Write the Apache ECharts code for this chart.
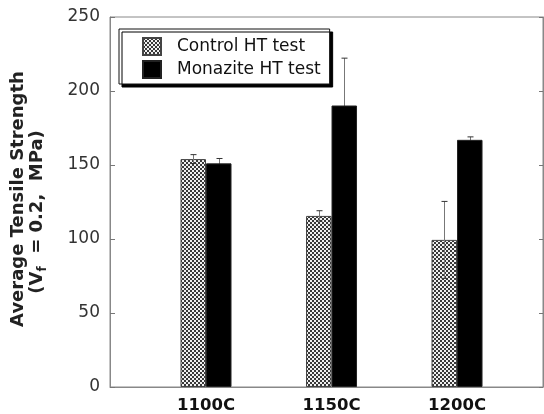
<!DOCTYPE html>
<html>
<head>
<meta charset="utf-8">
<script src="https://cdn.jsdelivr.net/npm/echarts@6/dist/echarts.min.js"></script>
<style>
  html, body { margin: 0; padding: 0; background: #fff; }
  #chart { width: 544px; height: 414px; }
</style>
</head>
<body>
<div id="chart"></div>
<script>
// Heat-treatment temperatures and tensile strength results
const categories = ['1100C', '1150C', '1200C'];
const controlMean = [154, 115.6, 99.4];
const controlErr = [3, 3.5, 26];
const monaziteMean = [151.1, 190.2, 167];
const monaziteErr = [3.3, 32, 2];
const seriesNames = ['Control HT test', 'Monazite HT test'];
const yMin = 0, yMax = 250, yStep = 50;

const FONT = 'DejaVu Sans';
const BAR_W = 25.5;

// Fine checker fill for the control bars
function checkerPattern() {
  const c = document.createElement('canvas');
  c.width = 4; c.height = 4;
  const g = c.getContext('2d');
  g.fillStyle = '#f0f0f0';
  g.fillRect(0, 0, 4, 4);
  g.fillStyle = '#383838';
  g.fillRect(0, 0, 2, 2);
  g.fillRect(2, 2, 2, 2);
  return { image: c, repeat: 'repeat' };
}

const xPos = categories.map((_, i) => i + 1);
const controlData = xPos.map((x, i) => [x, controlMean[i]]);
const monaziteData = xPos.map((x, i) => [x, monaziteMean[i]]);
const controlErrData = xPos.map((x, i) => [x, controlMean[i] - controlErr[i], controlMean[i] + controlErr[i]]);
const monaziteErrData = xPos.map((x, i) => [x, monaziteMean[i] - monaziteErr[i], monaziteMean[i] + monaziteErr[i]]);

// Error bar drawn at a bar's centre; shift is the bar's offset from the category point
function errorBar(shift) {
  return function (params, api) {
    const x = api.value(0);
    const lo = api.coord([x, api.value(1)]);
    const hi = api.coord([x, api.value(2)]);
    const cx = Math.round(lo[0] + shift) + 0.5;
    const cap = 3;
    return {
      type: 'group',
      children: [
        { type: 'line', shape: { x1: cx, y1: lo[1], x2: cx, y2: hi[1] }, style: { stroke: '#777', lineWidth: 1 } },
        { type: 'line', shape: { x1: cx - cap, y1: hi[1], x2: cx + cap, y2: hi[1] }, style: { stroke: '#333', lineWidth: 1 } },
        { type: 'line', shape: { x1: cx - cap, y1: lo[1], x2: cx + cap, y2: lo[1] }, style: { stroke: '#333', lineWidth: 1 } }
      ]
    };
  };
}

const chart = echarts.init(document.getElementById('chart'));
chart.setOption({
  animation: false,
  backgroundColor: '#fff',
  grid: {
    left: 110, right: 1, top: 17, bottom: 26,
    show: true, borderColor: '#888', borderWidth: 1, backgroundColor: 'transparent'
  },
  legend: {
    left: 119, top: 29,
    orient: 'vertical',
    padding: [8, 9, 5, 23],
    itemGap: 4,
    itemWidth: 18, itemHeight: 17,
    icon: 'rect',
    z: 10,
    backgroundColor: '#fff',
    borderColor: '#111', borderWidth: 1,
    shadowColor: '#000', shadowBlur: 0, shadowOffsetX: 3, shadowOffsetY: 3,
    textStyle: { fontFamily: FONT, fontSize: 17, color: '#111', lineHeight: 18, padding: [0, 0, 0, 11] },
    data: seriesNames
  },
  xAxis: {
    type: 'value',
    min: 0.235, max: 3.685,
    splitLine: { show: false },
    axisLine: { show: true, lineStyle: { color: '#888' } },
    axisTick: { show: false },
    axisLabel: {
      customValues: xPos,
      formatter: v => categories[Math.round(v) - 1] || '',
      fontFamily: FONT, fontSize: 16.5, fontWeight: 'bold', color: '#111', margin: 10
    }
  },
  yAxis: [
    {
      type: 'value', min: yMin, max: yMax, interval: yStep,
      splitLine: { show: false },
      axisLine: { show: true, lineStyle: { color: '#888' } },
      axisTick: { show: true, inside: true, length: 5, lineStyle: { color: '#777' } },
      axisLabel: { fontFamily: FONT, fontSize: 17, color: '#333', margin: 10 }
    },
    {
      type: 'value', min: yMin, max: yMax, interval: yStep, position: 'right',
      splitLine: { show: false },
      axisLine: { show: true, lineStyle: { color: '#888' } },
      axisTick: { show: true, inside: true, length: 4, lineStyle: { color: '#777' } },
      axisLabel: { show: false }
    }
  ],
  series: [
    {
      name: seriesNames[0], type: 'bar', data: controlData,
      barWidth: BAR_W, barGap: '0%', z: 3,
      itemStyle: { color: checkerPattern(), borderColor: '#444', borderWidth: 1 }
    },
    {
      name: seriesNames[1], type: 'bar', data: monaziteData,
      barWidth: BAR_W, barGap: '0%', z: 3,
      itemStyle: { color: '#000', borderColor: '#222', borderWidth: 1 }
    },
    {
      // control spreads stay visible over the checker fill
      type: 'custom', data: controlErrData, z: 4, silent: true, clip: false,
      renderItem: errorBar(-BAR_W / 2)
    },
    {
      // monazite spreads sit behind the solid bars
      type: 'custom', data: monaziteErrData, z: 2, silent: true, clip: false,
      renderItem: errorBar(BAR_W / 2)
    }
  ],
  graphic: [
    {
      type: 'text', x: 18, y: 199, rotation: Math.PI / 2,
      style: {
        text: 'Average Tensile Strength',
        fontFamily: FONT, fontSize: 18, fontWeight: 'bold', fill: '#222',
        align: 'center', verticalAlign: 'middle'
      }
    },
    {
      type: 'text', x: 37, y: 212, rotation: Math.PI / 2,
      style: {
        text: '{m|(V}{s|f}{m|  = 0.2,  MPa)}',
        align: 'center', verticalAlign: 'middle',
        rich: {
          m: { fontFamily: FONT, fontSize: 18, fontWeight: 'bold', fill: '#222', lineHeight: 24, verticalAlign: 'middle' },
          s: { fontFamily: FONT, fontSize: 12, fontWeight: 'bold', fill: '#222', lineHeight: 24, verticalAlign: 'bottom' }
        }
      }
    }
  ]
});
</script>
</body>
</html>
